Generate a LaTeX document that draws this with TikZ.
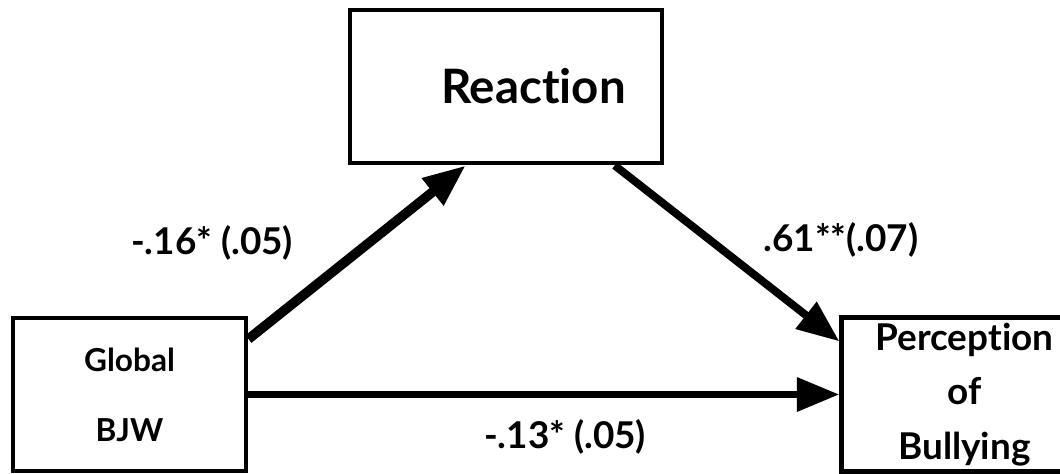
\documentclass[tikz,border=0pt]{standalone}
\usepackage{fontspec}
\setmainfont{Lato}[Ligatures=NoCommon]
\usetikzlibrary{positioning, arrows.meta}
\tikzset{
  varbox/.style = {draw, line width=2.8pt, minimum width=4.66cm, minimum height=3.06cm, align=center, font=\fontsize{18}{21.6}\selectfont\bfseries},
  coef/.style   = {font=\fontsize{21}{25}\selectfont\bfseries},
  effect/.style = {-{Triangle[length=0.85cm, width=0.65cm]}, line width=4.5pt}
}

\begin{document}
\begin{tikzpicture}[node distance=11.82cm]
  \useasboundingbox (0,0) rectangle (21.2,9.48);
  \node[varbox] (global) at (2.59,1.59) {Global\\[0.64cm]BJW};
  \node[varbox, minimum width=4.9cm, font=\fontsize{21}{25}\selectfont\bfseries, right=of global] (perception) {Perception\\[0.21cm]of\\[0.21cm]Bullying};
  \node[varbox, minimum width=6.24cm, font=\fontsize{27}{32}\selectfont\bfseries] (reaction) at (10.12,7.75) {\hspace*{1.1cm}Reaction};

  \draw[effect, line width=5.5pt] (global.25) -- (reaction.243);
  \draw[effect] (reaction.-36) -- (perception.157);
  \draw[effect] (global.east) -- (perception.west);

  \node[coef] (a) at (4.24,4.62) {-.16* (.05)};
  \node[coef] (b) at (16.82,4.68) {.61**(.07)};
  \node[coef] (c) at (11.3,0.74) {-.13* (.05)};
\end{tikzpicture}
\end{document}
